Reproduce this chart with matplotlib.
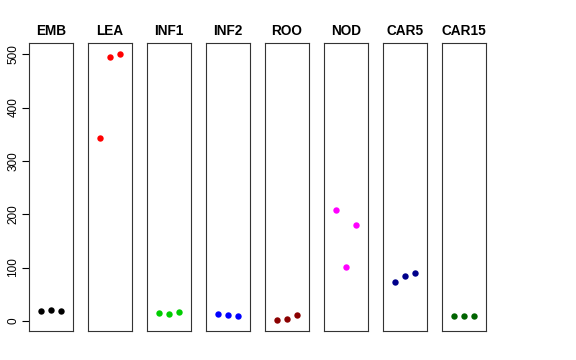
import matplotlib
matplotlib.use('Agg')
import matplotlib.pyplot as plt

plt.rcParams['font.family'] = ['Liberation Sans', 'DejaVu Sans']

# data
samples = ['EMB', 'LEA', 'INF1', 'INF2', 'ROO', 'NOD', 'CAR5', 'CAR15']
values = {
    'EMB':   [19, 21, 19],
    'LEA':   [342, 495, 501],
    'INF1':  [15, 13, 17],
    'INF2':  [12, 11, 10],
    'ROO':   [1, 3, 11],
    'NOD':   [207, 101, 179],
    'CAR5':  [72, 85, 89],
    'CAR15': [9, 9, 9],
}
colors = ['black', 'red', '#00cd00', 'blue', '#8b0000', 'magenta', '#00008b', '#006400']
reps = [1, 2, 3]
yticks = [0, 100, 200, 300, 400, 500]

# common y range, R style 4% padding
all_vals = [v for s in samples for v in values[s]]
lo, hi = min(all_vals), max(all_vals)
pad = 0.04 * (hi - lo)
ylim = (lo - pad, hi + pad)

W, H = 576, 360
fig = plt.figure(figsize=(W / 100, H / 100), dpi=100)

left0, step, width = 29, 59, 44
top, bottom = 43, 331

for i, (name, col) in enumerate(zip(samples, colors)):
    x0 = left0 + i * step
    ax = fig.add_axes([x0 / W, 1 - bottom / H, width / W, (bottom - top) / H])
    ax.plot(reps, values[name], 'o', color=col, markersize=4.6, markeredgewidth=0)
    ax.set_xlim(-0.16, 4.16)
    ax.set_ylim(*ylim)
    ax.set_xticks([])
    for sp in ax.spines.values():
        sp.set_linewidth(0.8)
        sp.set_color('#333333')
    ax.set_title(name, fontsize=9.8, fontweight='bold', pad=6)
    if i == 0:
        ax.set_yticks(yticks)
        ax.set_yticklabels([str(t) for t in yticks], rotation=90, va='center', fontsize=8.5)
        ax.tick_params(axis='y', length=5, width=0.8, pad=2)
    else:
        ax.set_yticks([])

plt.savefig('out.png', dpi=100)
